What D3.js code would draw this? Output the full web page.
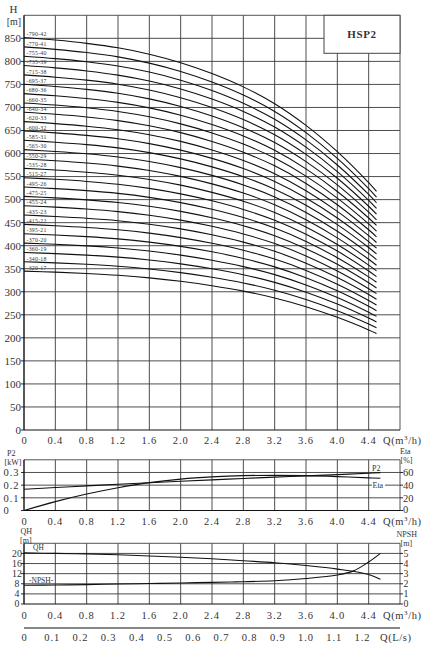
<!DOCTYPE html>
<html><head><meta charset="utf-8">
<script src="https://cdn.jsdelivr.net/npm/d3@7/dist/d3.min.js"></script>
<style>body{margin:0;background:#fff}svg{display:block}text{font-family:"Liberation Serif",serif;fill:#333}</style>
</head><body>
<script>
// ---------- data ----------
const qPts = [0,0.4,0.8,1.2,1.6,2.0,2.4,2.8,3.2,3.6,4.0,4.4,4.5];
const headPerStage = [20.28,20.15,19.98,19.75,19.42,18.98,18.42,17.73,16.86,15.74,14.38,12.78,12.33];
const stages = [42,41,40,39,38,37,36,35,34,33,32,31,30,29,28,27,26,25,24,23,22,21,20,19,18,17];
const ratedHeads = [790,770,755,735,715,695,680,660,640,620,600,585,565,550,535,515,495,475,455,435,415,395,370,360,340,320];

const qAux = [0,0.4,0.8,1.2,1.6,2.0,2.4,2.8,3.2,3.6,4.0,4.4,4.55];
const p2 = [0.168,0.181,0.194,0.207,0.219,0.231,0.242,0.253,0.263,0.273,0.283,0.294,0.299];
const eta = [0,14,26,36,44,49.5,53,55,55.5,55,53.5,51.5,50.8];
const qh = [20.2,20.0,19.8,19.5,19.0,18.5,17.9,17.1,16.3,15.2,13.8,11.7,9.8];
const qNpsh = [0,0.4,0.8,1.2,1.6,2.0,2.4,2.8,3.2,3.6,4.0,4.2,4.4,4.55];
const npsh = [1.85,1.88,1.92,1.97,2.02,2.08,2.14,2.2,2.3,2.52,2.87,3.25,4.15,5.0];

const qTicks = [0,0.4,0.8,1.2,1.6,2.0,2.4,2.8,3.2,3.6,4.0,4.4];
const hTicks = [0,50,100,150,200,250,300,350,400,450,500,550,600,650,700,750,800,850];
const p2Ticks = [0,0.1,0.2,0.3];
const etaTicks = [0,20,40,60];
const qhTicks = [0,4,8,12,16,20];
const npshTicks = [0,1,2,3,4,5];
const lsTicks = [0,0.1,0.2,0.3,0.4,0.5,0.6,0.7,0.8,0.9,1.0,1.1,1.2];

// ---------- setup ----------
const svg = d3.select("body").append("svg").attr("width",426).attr("height",651);
const x = d3.scaleLinear().domain([0,4.8]).range([24,400]);
const xLs = d3.scaleLinear().domain([0,4.8/3.6]).range([24,400]);
const yH = d3.scaleLinear().domain([0,900]).range([430,15.3]);
const yP = d3.scaleLinear().domain([0,0.4]).range([510.5,459.8]);
const yE = d3.scaleLinear().domain([0,80]).range([510.5,459.8]);
const yQ = d3.scaleLinear().domain([0,24]).range([604,543.3]);
const yN = d3.scaleLinear().domain([0,6]).range([604,543.3]);
const fmt1 = d => d===0 ? "0" : d.toFixed(1);
const GRID = "#3a3a3a";
const CURVE = d3.curveCatmullRom.alpha(0.5);

function panel(y, yTicksVals){
  const g = svg.append("g");
  const [y0,y1] = y.range();
  g.selectAll(null).data(yTicksVals.filter(v=>v>0)).join("line")
    .attr("x1",x(0)).attr("x2",x(4.8)).attr("y1",d=>y(d)).attr("y2",d=>y(d))
    .attr("stroke",GRID).attr("stroke-width",0.9);
  g.selectAll(null).data(qTicks.filter(v=>v>0)).join("line")
    .attr("x1",d=>x(d)).attr("x2",d=>x(d)).attr("y1",y0).attr("y2",y1)
    .attr("stroke",GRID).attr("stroke-width",0.9);
  g.append("line").attr("x1",x(0)).attr("x2",x(4.8)).attr("y1",y1).attr("y2",y1).attr("stroke","#555").attr("stroke-width",1);
  g.append("line").attr("x1",x(4.8)).attr("x2",x(4.8)).attr("y1",y1).attr("y2",y0).attr("stroke","#555").attr("stroke-width",1);
  g.append("line").attr("x1",x(0)).attr("x2",x(4.8)).attr("y1",y0).attr("y2",y0).attr("stroke","#111").attr("stroke-width",1.2);
  g.append("line").attr("x1",x(0)).attr("x2",x(0)).attr("y1",y1).attr("y2",y0).attr("stroke","#111").attr("stroke-width",1.4);
  g.selectAll(null).data(yTicksVals).join("line")
    .attr("x1",x(0)-3).attr("x2",x(0)).attr("y1",d=>y(d)).attr("y2",d=>y(d)).attr("stroke","#111").attr("stroke-width",0.9);
  return g;
}
function xLabels(yBase){
  svg.append("g").selectAll(null).data(qTicks).join("text")
    .attr("x",d=>x(d)).attr("y",yBase).attr("text-anchor","middle")
    .attr("font-size",10.5).attr("letter-spacing",d=>d===0?0:0.9).text(fmt1);
  const t = svg.append("text").attr("x",383).attr("y",yBase).attr("font-size",10.5).attr("letter-spacing",0.6);
  t.append("tspan").text("Q(m");
  t.append("tspan").attr("font-size",7).attr("dy",-4).text("3");
  t.append("tspan").attr("dy",4).text("/h)");
}

// ---------- main H panel ----------
panel(yH, hTicks);
svg.append("g").selectAll(null).data(hTicks).join("text")
  .attr("x",21).attr("y",d=>yH(d)).attr("dy","0.35em").attr("text-anchor","end")
  .attr("font-size",11).text(d=>d);
svg.append("text").attr("x",13.5).attr("y",13).attr("text-anchor","middle").attr("font-size",11).text("H");
svg.append("text").attr("x",14).attr("y",24.5).attr("text-anchor","middle").attr("font-size",10).text("[m]");
xLabels(444);

svg.append("rect").attr("x",324).attr("y",15.3).attr("width",76).attr("height",38)
  .attr("fill","#fff").attr("stroke","#444").attr("stroke-width",1);
svg.append("text").attr("x",362).attr("y",37.5).attr("text-anchor","middle")
  .attr("font-size",11).attr("font-weight","bold").attr("letter-spacing",0.6).text("HSP2");

const hLine = d3.line().x(d=>x(d[0])).y(d=>yH(d[1])).curve(CURVE);
svg.append("g").selectAll(null).data(stages).join("path")
  .attr("d",n=>hLine(qPts.map((q,i)=>[q, n*headPerStage[i]])))
  .attr("fill","none").attr("stroke","#111").attr("stroke-width",1.1);
svg.append("g").selectAll(null).data(stages).join("text")
  .attr("x",26.5).attr("y",n=>yH(n*headPerStage[0])-3.3).attr("dy","0.35em")
  .attr("font-size",5.8).attr("letter-spacing",0.25)
  .text((n,i)=>"-"+ratedHeads[i]+"-"+n);

// ---------- P2 / Eta panel ----------
panel(yP, p2Ticks);
svg.append("g").selectAll(null).data(etaTicks).join("line")
  .attr("x1",x(4.8)).attr("x2",x(4.8)+3).attr("y1",d=>yE(d)).attr("y2",d=>yE(d)).attr("stroke","#111").attr("stroke-width",0.9);
svg.append("g").selectAll(null).data(p2Ticks).join("text")
  .attr("x",3.5).attr("y",d=>yP(d)).attr("dy","0.35em").attr("font-size",10.5)
  .attr("letter-spacing",0.9).text(fmt1);
svg.append("g").selectAll(null).data(etaTicks).join("text")
  .attr("x",403).attr("y",d=>yE(d)-(d===0?1:0)).attr("dy","0.35em").attr("font-size",10.5).text(d=>d);
svg.append("text").attr("x",7).attr("y",456).attr("font-size",8).text("P2");
svg.append("text").attr("x",4.5).attr("y",465).attr("font-size",8).text("[kW]");
svg.append("text").attr("x",400).attr("y",453.5).attr("font-size",8).text("Eta");
svg.append("text").attr("x",400.5).attr("y",463).attr("font-size",8).text("[%]");
const pLine = d3.line().x(d=>x(d[0])).y(d=>yP(d[1])).curve(CURVE);
const eLine = d3.line().x(d=>x(d[0])).y(d=>yE(d[1])).curve(CURVE);
svg.append("path").attr("d",pLine(qAux.map((q,i)=>[q,p2[i]]))).attr("fill","none").attr("stroke","#111").attr("stroke-width",1.1);
svg.append("path").attr("d",eLine(qAux.map((q,i)=>[q,eta[i]]))).attr("fill","none").attr("stroke","#111").attr("stroke-width",1.1);
svg.append("text").attr("x",372).attr("y",471).attr("font-size",8).text("P2");
svg.append("rect").attr("x",372).attr("y",481).attr("width",13).attr("height",7).attr("fill","#fff");
svg.append("text").attr("x",372.5).attr("y",487.8).attr("font-size",8).text("Eta");
xLabels(525);

// ---------- QH / NPSH panel ----------
panel(yQ, qhTicks);
svg.append("g").selectAll(null).data(npshTicks).join("line")
  .attr("x1",x(4.8)).attr("x2",x(4.8)+3).attr("y1",d=>yN(d)).attr("y2",d=>yN(d)).attr("stroke","#111").attr("stroke-width",0.9);
svg.append("g").selectAll(null).data(qhTicks).join("text")
  .attr("x",17).attr("y",d=>yQ(d)).attr("dy","0.33em").attr("text-anchor","middle").attr("font-size",9.8).text(d=>d);
svg.append("g").selectAll(null).data(npshTicks).join("text")
  .attr("x",403.5).attr("y",d=>yN(d)).attr("dy","0.33em").attr("font-size",9.8).text(d=>d);
svg.append("text").attr("x",20.5).attr("y",534).attr("font-size",8).text("QH");
svg.append("text").attr("x",20).attr("y",542.5).attr("font-size",8).text("[m]");
svg.append("text").attr("x",396.5).attr("y",537).attr("font-size",8).text("NPSH");
svg.append("text").attr("x",400.5).attr("y",545.5).attr("font-size",8).text("[m]");
const qhLine = d3.line().x(d=>x(d[0])).y(d=>yQ(d[1])).curve(CURVE);
const nLine = d3.line().x(d=>x(d[0])).y(d=>yN(d[1])).curve(CURVE);
svg.append("path").attr("d",qhLine(qAux.map((q,i)=>[q,qh[i]]))).attr("fill","none").attr("stroke","#111").attr("stroke-width",1.1);
svg.append("path").attr("d",nLine(qNpsh.map((q,i)=>[q,npsh[i]]))).attr("fill","none").attr("stroke","#111").attr("stroke-width",1.1);
svg.append("text").attr("x",33).attr("y",550).attr("font-size",7.5).text("QH");
svg.append("text").attr("x",29).attr("y",582.5).attr("font-size",7.5).text("-NPSH-");
xLabels(618.5);

// ---------- L/s axis ----------
svg.append("line").attr("x1",xLs(0)).attr("x2",400).attr("y1",628).attr("y2",628).attr("stroke","#111").attr("stroke-width",1.2);
svg.append("g").selectAll(null).data(lsTicks).join("text")
  .attr("x",d=>xLs(d)).attr("y",641).attr("text-anchor","middle").attr("font-size",10.5)
  .attr("letter-spacing",d=>d===0?0:0.9).text(fmt1);
svg.append("text").attr("x",380).attr("y",641).attr("font-size",10.5).attr("letter-spacing",0.6).text("Q(L/s)");
</script>
</body></html>
